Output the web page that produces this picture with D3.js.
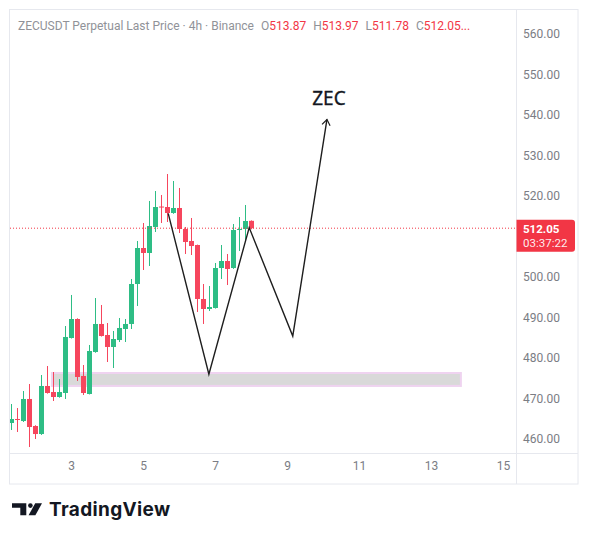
<!DOCTYPE html>
<html><head><meta charset="utf-8">
<script src="https://cdn.jsdelivr.net/npm/d3@7"></script>
<style>body{margin:0;background:#fff}svg{display:block}</style></head>
<body>
<script>
// ---- data ----
const dayTicks = [3, 5, 7, 9, 11, 13, 15];
const priceTicks = [460, 470, 480, 490, 500, 510, 520, 530, 540, 550, 560];
const firstBarDay = 1 + 8 / 24;   // first 4h bar opens day 1, 08:00
const barHours = 4;
const opens  = [463.95,464.94,464.44,469.88,463.21,461.23,473.09,471.60,470.37,471.36,484.94,489.63,475.56,471.11,481.48,488.40,485.68,482.72,484.44,487.16,488.40,498.27,507.16,505.93,512.35,517.40,517.28,515.80,517.04,511.85,508.89,507.90,494.57,492.10,492.35,502.22,503.95,502.22,511.60,511.85,513.87];
const highs  = [468.64,467.65,471.85,473.58,463.40,475.80,478.02,476.54,474.81,487.90,495.56,489.80,478.27,483.21,494.81,493.09,488.64,486.67,489.88,489.63,499.51,508.89,513.33,518.77,521.23,520.25,525.43,523.70,521.98,512.35,514.57,508.00,498.27,497.78,503.46,507.90,505.68,513.09,514.81,517.78,513.97];
const lows   = [462.22,461.73,464.20,458.02,460.00,461.00,471.20,469.38,470.20,469.88,484.80,474.32,470.86,471.00,481.30,485.30,479.01,477.53,483.95,483.95,487.16,492.84,501.73,502.72,511.11,513.33,513.58,515.60,510.86,505.68,505.43,491.36,488.40,491.60,492.20,499.51,498.02,502.00,506.42,508.64,511.78];
const closes = [464.94,464.70,469.88,462.96,461.23,473.09,471.36,470.37,471.60,485.19,489.63,475.31,471.36,481.73,488.40,485.43,482.72,484.69,487.41,488.40,498.27,507.16,505.93,512.59,517.28,517.20,515.80,517.04,511.85,508.64,507.65,494.57,492.10,492.59,502.22,503.95,501.98,511.60,511.85,513.83,512.05];
const lastPrice = 512.05;
const countdown = "03:37:22";
const zoneDays = [2.47, 13.83];
const zonePrices = [473.1, 476.3];
const pathDays = [5.70, 6.83, 7.95, 9.16, 10.11];
const pathPrices = [515.7, 476.0, 512.2, 485.4, 538.9];
const labelText = "ZEC";
const headerTitle = "ZECUSDT Perpetual Last Price · 4h · Binance";
const ohlcLabels = ["O", "H", "L", "C"];
const ohlcValues = ["513.87", "513.97", "511.78", "512.05..."];

// ---- layout ----
const W = 589, H = 540;
const plot = {l: 10, t: 10, r: 516, b: 453};
const frame = {r: 578, b: 484};
const UP = "#2ebd85", DOWN = "#f6465d", RED = "#f23645";

const svg = d3.select("body").append("svg").attr("width", W).attr("height", H)
  .style("font-family", "Roboto, 'Noto Sans', sans-serif");

const x = d3.scaleLinear().domain([3 - 61/36, 15 + 13/36]).range([plot.l, plot.r]);
const y = d3.scaleLinear().domain([460, 560]).range([439, 34]);

svg.append("defs").append("clipPath").attr("id", "clip")
  .append("rect").attr("x", plot.l).attr("y", plot.t)
  .attr("width", plot.r - plot.l).attr("height", plot.b - plot.t);

// frame
const fc = "#e6e8ee";
svg.append("rect").attr("x", 9.5).attr("y", 9.5).attr("width", frame.r - 9.5).attr("height", frame.b - 9.5)
  .attr("fill", "none").attr("stroke", fc);
svg.append("line").attr("x1", plot.r + 0.5).attr("x2", plot.r + 0.5).attr("y1", 10).attr("y2", frame.b).attr("stroke", fc);
svg.append("line").attr("x1", 10).attr("x2", frame.r).attr("y1", plot.b + 0.5).attr("y2", plot.b + 0.5).attr("stroke", fc);

const g = svg.append("g").attr("clip-path", "url(#clip)");

// zone
g.append("rect")
  .attr("x", x(zoneDays[0])).attr("width", x(zoneDays[1]) - x(zoneDays[0]))
  .attr("y", y(zonePrices[1])).attr("height", y(zonePrices[0]) - y(zonePrices[1]))
  .attr("fill", "#d9d9d9").attr("stroke", "#efd3f0").attr("stroke-width", 2);

// candles
const bars = opens.map((o, i) => ({t: firstBarDay + i * barHours / 24, o, h: highs[i], l: lows[i], c: closes[i]}));
const cg = g.append("g");
bars.forEach(b => {
  const col = b.c >= b.o ? UP : DOWN;
  const cx = Math.round(x(b.t));
  cg.append("line").attr("x1", cx + 0.5).attr("x2", cx + 0.5)
    .attr("y1", y(b.h)).attr("y2", y(b.l)).attr("stroke", col).attr("stroke-width", 1);
  const top = y(Math.max(b.o, b.c)), bot = y(Math.min(b.o, b.c));
  cg.append("rect").attr("x", cx - 2).attr("width", 5)
    .attr("y", top).attr("height", Math.max(1, bot - top)).attr("fill", col);
});

// last price dotted line
g.append("line").attr("x1", plot.l).attr("x2", plot.r)
  .attr("y1", y(lastPrice)).attr("y2", y(lastPrice))
  .attr("stroke", RED).attr("stroke-width", 1).attr("stroke-dasharray", "1,2");

// zigzag path
const pts = pathDays.map((d, i) => [x(d), y(pathPrices[i])]);
g.append("path").attr("d", d3.line()(pts)).attr("fill", "none")
  .attr("stroke", "#1e1e1e").attr("stroke-width", 1.4).attr("stroke-linejoin", "miter");
// arrow head
const tip = pts[pts.length - 1], prev = pts[pts.length - 2];
const ang = Math.atan2(prev[1] - tip[1], prev[0] - tip[0]);
const aL = 7, spread = 0.62;
const a1 = [tip[0] + aL * Math.cos(ang + spread), tip[1] + aL * Math.sin(ang + spread)];
const a2 = [tip[0] + aL * Math.cos(ang - spread), tip[1] + aL * Math.sin(ang - spread)];
g.append("path").attr("d", d3.line()([a1, tip, a2])).attr("fill", "none")
  .attr("stroke", "#1e1e1e").attr("stroke-width", 1.2);
// label
g.append("text").attr("x", tip[0] + 2).attr("y", 105).attr("text-anchor", "middle")
  .attr("font-family", "'Noto Sans', sans-serif").attr("font-size", 19).attr("fill", "#131722")
  .attr("stroke", "#131722").attr("stroke-width", 0.3)
  .text(labelText);

// price label geometry (axis labels hidden behind it, as in TradingView)
const ly = y(lastPrice);
const boxTop = ly - 8.5, boxBot = ly + 23.5;

// price axis
const visiblePriceTicks = priceTicks.filter(v => y(v) + 7 < boxTop || y(v) - 7 > boxBot);
const ya = svg.append("g").attr("transform", `translate(${plot.r},0)`)
  .call(d3.axisRight(y).tickValues(visiblePriceTicks).tickSize(0).tickPadding(7).tickFormat(d3.format(".2f")));
ya.select(".domain").remove();
ya.selectAll("text").attr("font-size", 12).attr("fill", "#7b7d84").attr("font-family", "Roboto, sans-serif");

// time axis
const xa = svg.append("g").attr("transform", `translate(0,${plot.b})`)
  .call(d3.axisBottom(x).tickValues(dayTicks).tickSize(0).tickPadding(8).tickFormat(d3.format("d")));
xa.select(".domain").remove();
xa.selectAll("text").attr("font-size", 12).attr("fill", "#7b7d84").attr("font-family", "Roboto, sans-serif");

// price label
svg.append("path")
  .attr("d", `M${plot.r+0.5},${boxTop} h55.5 a3,3 0 0 1 3,3 v26 a3,3 0 0 1 -3,3 h-55.5 z`)
  .attr("fill", RED);
svg.append("text").attr("x", 523).attr("y", ly + 5.2).attr("font-size", 11.5).attr("font-weight", "bold")
  .attr("fill", "#fff").text(d3.format(".2f")(lastPrice));
svg.append("text").attr("x", 523).attr("y", ly + 18.6).attr("font-size", 11.5)
  .attr("fill", "#fff").attr("fill-opacity", 0.92).text(countdown);

// header
const ht = svg.append("text").attr("x", 18).attr("y", 29.5).attr("font-size", 12).attr("fill", "#909298");
ht.append("tspan").text(headerTitle);
ohlcLabels.forEach((lab, i) => {
  ht.append("tspan").attr("dx", 7).text(lab);
  ht.append("tspan").attr("fill", RED).text(ohlcValues[i]);
});

// logo
const lg = svg.append("g").attr("fill", "#131722");
lg.append("path").attr("d", "M12,503.3 H26.3 V515.2 H20.3 V507.8 H12 Z");
lg.append("circle").attr("cx", 30.4).attr("cy", 505.6).attr("r", 2.3);
lg.append("path").attr("d", "M35.2,503.3 H42 L35.4,515.2 H28.6 Z");
svg.append("text").attr("x", 49).attr("y", 516).attr("font-family", "Inter, sans-serif")
  .attr("font-weight", "bold").attr("font-size", 19).attr("letter-spacing", 0.35).attr("fill", "#131722").text("TradingView");
</script>
</body></html>
